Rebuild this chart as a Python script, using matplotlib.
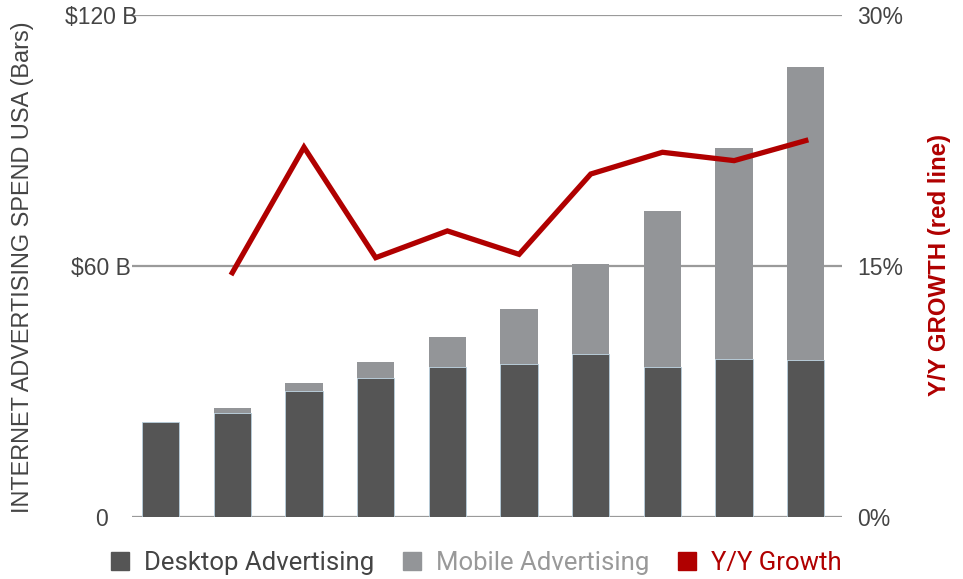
import matplotlib.pyplot as plt
from matplotlib.lines import Line2D
import numpy as np

plt.rcParams["font.family"] = ["Liberation Sans", "DejaVu Sans"]

# values (billions USD, % growth)
desktop = [22.7, 24.9, 30.1, 33.2, 35.9, 36.6, 39.0, 35.9, 37.8, 37.5]
mobile = [0.0, 1.2, 1.9, 3.9, 7.1, 13.1, 21.5, 37.3, 50.5, 70.1]
growth = [14.6, 22.1, 15.5, 17.1, 15.7, 20.5, 21.8, 21.3, 22.5]

left_ticks = [0, 60, 120]
left_labels = ["0", "$60 B", "$120 B"]
right_ticks = [0, 15, 30]
right_labels = ["0%", "15%", "30%"]

DESKTOP_C = "#555555"
MOBILE_C = "#939598"
RED = "#b00000"
GRID_C = "#9a9a9a"
TEXT_C = "#444444"

fig = plt.figure(figsize=(9.63, 5.79), dpi=100)
ax = fig.add_axes([0.137, 0.107, 0.737, 0.867])

x = np.arange(len(desktop))
ax.bar(x, desktop, width=0.52, color=DESKTOP_C, edgecolor="#b8cfdd",
       linewidth=0.6, zorder=2)
ax.bar(x, mobile, width=0.52, bottom=desktop, color=MOBILE_C, zorder=2)

ax.set_xlim(-0.4, 9.5)
ax.set_ylim(0, 120)
ax.set_xticks([])
ax.set_yticks(left_ticks)
ax.set_yticklabels(left_labels, fontsize=16.5, color=TEXT_C, ha="center")
ax.tick_params(axis="y", length=0, pad=22)
for v in left_ticks:
    ax.axhline(v, color=GRID_C, lw=1.6, zorder=1)
for s in ax.spines.values():
    s.set_visible(False)

ax2 = ax.twinx()
ax2.set_ylim(0, 30)
ax2.plot(x[1:], growth, color=RED, lw=3.8, solid_joinstyle="miter", zorder=3)
ax2.set_yticks(right_ticks)
ax2.set_yticklabels(right_labels, fontsize=16.5, color=TEXT_C)
ax2.tick_params(axis="y", length=0, pad=11)
for s in ax2.spines.values():
    s.set_visible(False)

# axis titles
fig.text(23 / 963, 0.539, "INTERNET ADVERTISING SPEND USA (Bars)", rotation=90,
         ha="center", va="center", fontsize=16.9, color=TEXT_C)
fig.text(939 / 963, 0.542, "Y/Y GROWTH (red line)", rotation=90,
         ha="center", va="center", fontsize=17.3, color=RED, fontweight="bold")

handles = [
    Line2D([], [], marker="s", ls="", color=DESKTOP_C, markersize=13),
    Line2D([], [], marker="s", ls="", color=MOBILE_C, markersize=13),
    Line2D([], [], marker="s", ls="", color=RED, markersize=13),
]
leg = fig.legend(handles, ["Desktop Advertising", "Mobile Advertising", "Y/Y Growth"],
                 loc="center", bbox_to_anchor=(0.494, 0.028), ncol=3, frameon=False,
                 handlelength=0.8, handletextpad=0.55, columnspacing=1.05,
                 prop={"family": ["Roboto", "DejaVu Sans"], "size": 18.5})
for t, c in zip(leg.get_texts(), ["#444444", "#999999", RED]):
    t.set_color(c)

fig.savefig("out.png", dpi=100)
